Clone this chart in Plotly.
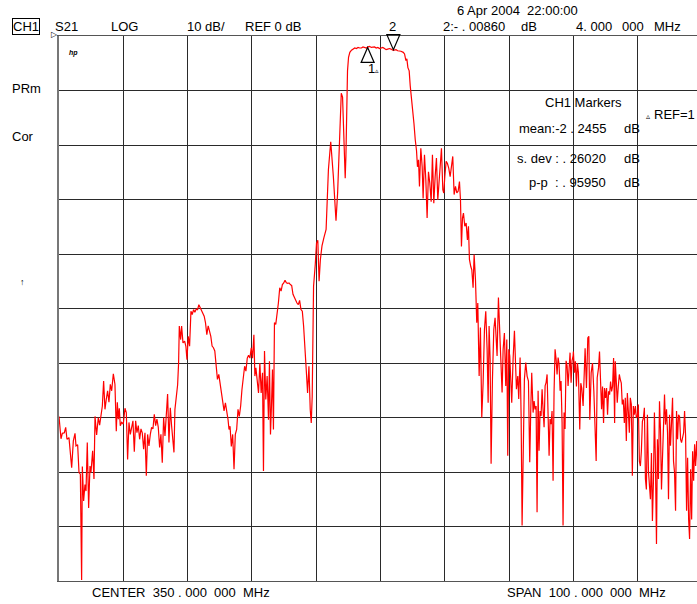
import plotly.graph_objects as go

# ---- Instrument settings ----
start_mhz = 300.0
stop_mhz = 400.0
ref_db = 0.0
scale_db = 10.0
ndiv = 10

# ---- S21 trace: (frequency MHz, dB) ----
seg_low = [(300.00,-69.8),(300.31,-73.9),(300.52,-72.9),(300.83,-72.8),(301.04,-71.8),(301.24,-74.0),(301.55,-73.7),(301.97,-79.2),(302.23,-74.3),(302.49,-72.9),(302.64,-75.2),(302.90,-75.0),(303.11,-80.1),(303.32,-80.4),(303.52,-99.8),(303.63,-79.0),(303.83,-85.3),(304.04,-82.3),(304.20,-83.5),(304.40,-74.6),(304.61,-86.6),(304.82,-78.9),(304.97,-80.1),(305.23,-76.1),(305.44,-81.3),(305.60,-69.8),(305.85,-73.2),(306.11,-70.0),(306.32,-71.4),(306.53,-69.4),(306.74,-67.9),(306.94,-63.3),(307.15,-68.5),(307.36,-66.6),(307.56,-65.1),(307.77,-67.2),(307.98,-63.9),(308.19,-65.1),(308.45,-62.0),(308.70,-63.9),(308.91,-72.5),(309.07,-67.2),(309.22,-70.3),(309.38,-68.3),(309.53,-71.5),(309.74,-70.9),(310.00,-71.2),(310.26,-68.3),(310.47,-69.1),(310.67,-77.7),(310.88,-70.9),(311.09,-73.1),(311.30,-71.5),(311.50,-70.6),(311.71,-76.3),(311.92,-70.6),(312.12,-72.8),(312.33,-71.5),(312.54,-74.0),(312.75,-72.1),(312.95,-72.8),(313.16,-75.8),(313.37,-72.8),(313.58,-80.7),(313.78,-73.1),(313.99,-75.2),(314.20,-73.1),(314.40,-71.8),(314.61,-72.1),(314.82,-69.4),(315.03,-71.5),(315.23,-70.3),(315.44,-71.8),(315.65,-75.5),(315.85,-73.1),(316.06,-78.3),(316.27,-70.0),(316.48,-73.4),(316.68,-69.7),(316.89,-65.7),(317.10,-74.6),(317.31,-68.2),(317.51,-71.5),(317.72,-74.0),(317.88,-76.4),(318.03,-68.5),(318.20,-67.0),(318.45,-64.0),(318.60,-60.0)]

seg_hump = [(318.71,-53.2),(318.92,-55.7),(319.07,-53.2),(319.28,-56.3),(319.54,-56.0),(319.74,-57.0),(319.90,-59.4),(320.10,-55.1),(320.31,-56.9),(320.52,-50.5),(320.72,-51.1),(320.93,-50.2),(321.13,-50.7),(321.34,-50.1),(321.55,-50.2),(321.75,-49.3),(321.96,-49.9),(322.16,-50.2),(322.37,-51.0),(322.58,-51.4),(322.78,-52.6),(322.99,-54.8),(323.20,-53.2),(323.40,-54.2),(323.61,-55.1),(323.81,-56.9),(324.02,-57.2),(324.23,-57.8),(324.43,-60.0),(324.64,-63.0),(324.85,-62.1),(325.05,-63.6),(325.26,-65.5),(325.46,-67.3),(325.67,-68.8),(325.88,-67.3),(326.08,-68.5),(326.29,-70.4),(326.44,-72.2),(326.60,-71.6),(326.80,-75.3),(327.01,-73.1),(327.22,-79.5),(327.42,-73.1),(327.63,-72.2),(327.84,-68.5),(328.04,-69.8),(328.25,-67.9),(328.45,-64.9),(328.66,-63.0),(328.87,-60.6),(329.07,-61.5),(329.28,-59.1),(329.48,-58.6),(329.69,-59.1),(329.90,-57.2),(330.10,-59.1),(330.31,-54.8),(330.46,-62.4),(330.62,-60.9),(330.82,-63.6),(331.03,-65.5),(331.24,-60.0),(331.44,-65.5),(331.65,-61.8),(331.80,-79.8),(331.96,-57.8),(332.16,-66.7),(332.37,-62.4),(332.58,-70.4),(332.73,-59.7),(332.89,-73.1),(333.04,-67.9),(333.20,-61.2),(333.35,-72.2),(333.51,-52.6),(333.71,-52.9),(333.92,-51.1),(334.12,-49.0),(334.33,-46.2),(334.54,-46.8),(334.74,-45.6),(334.95,-45.3),(335.15,-44.8),(335.36,-45.3),(335.57,-45.4),(335.77,-45.3),(335.98,-45.6),(336.19,-45.8),(336.39,-47.4),(336.60,-48.0),(336.80,-48.3),(337.01,-49.0),(337.22,-49.3),(337.42,-48.5),(337.63,-50.2),(337.84,-50.5),(338.04,-53.2),(338.25,-56.6),(338.45,-61.2),(338.66,-65.5),(338.87,-60.6),(339.07,-68.5),(339.23,-71.0),(339.38,-66.1),(339.59,-45.9)]

seg_pass = [(339.85,-42.0),(340.05,-38.0),(340.25,-37.5),(340.45,-45.0),(340.65,-41.0),(340.90,-38.5),(341.20,-37.0),(341.54,-35.5),(341.90,-24.5),(342.26,-19.4),(342.67,-25.8),(343.08,-33.9),(343.33,-28.8),(343.59,-21.5),(343.79,-14.2),(343.90,-10.5),(344.10,-11.2),(344.31,-20.3),(344.51,-26.1),(344.62,-22.1),(344.77,-11.2),(344.87,-6.4),(345.03,-3.9),(345.23,-3.0),(345.49,-2.6),(345.75,-2.4),(346.00,-2.2),(346.25,-2.3),(346.51,-2.1),(346.77,-2.2),(347.03,-2.2),(347.28,-2.0),(347.54,-2.1),(347.80,-2.2),(348.05,-2.0),(348.30,-1.9),(348.56,-2.1),(348.82,-2.0),(349.08,-2.0),(349.33,-2.2),(349.59,-2.1),(349.85,-2.3),(350.10,-2.2),(350.36,-2.1),(350.62,-2.3),(350.87,-2.5),(351.13,-2.4),(351.38,-2.3),(351.64,-2.4),(351.90,-2.6),(352.15,-2.6),(352.41,-2.5),(352.67,-2.7),(352.92,-2.7),(353.18,-2.8),(353.54,-3.0),(353.74,-3.3),(353.95,-4.5),(354.10,-4.2),(354.26,-5.8),(354.46,-6.4),(354.62,-9.1),(354.80,-11.0),(355.00,-13.5),(355.20,-16.0),(355.40,-19.0),(355.60,-21.0)]

seg_skirt = [(355.75,-24.0),(355.91,-22.7),(356.06,-27.6),(356.27,-20.6),(356.48,-24.0),(356.63,-29.8),(356.84,-21.8),(357.05,-26.4),(357.25,-33.4),(357.46,-24.9),(357.67,-27.0),(357.88,-30.4),(358.08,-21.8),(358.29,-30.7),(358.50,-25.8),(358.70,-22.4),(358.91,-30.1),(359.12,-26.7),(359.33,-22.4),(359.48,-20.6),(359.69,-28.2),(359.84,-28.8),(360.00,-25.8),(360.21,-23.0),(360.41,-23.4),(360.62,-24.3),(360.83,-25.8),(361.04,-24.0),(361.24,-22.1),(361.45,-29.1),(361.66,-27.6),(361.87,-28.8),(362.07,-28.5),(362.28,-26.7),(362.44,-30.1),(362.59,-38.6),(362.75,-33.4),(362.90,-32.5),(363.11,-34.9),(363.32,-34.3),(363.52,-37.4),(363.68,-34.9),(363.83,-41.0),(364.04,-42.3)]

seg_mid = [(364.20,-42.9),(364.40,-46.2),(364.56,-40.1),(364.77,-44.7),(364.97,-52.6),(365.13,-49.0),(365.34,-62.4),(365.54,-53.5),(365.75,-70.0),(365.96,-63.6),(366.17,-53.8),(366.37,-50.5),(366.58,-57.5),(366.74,-67.3),(366.89,-53.2),(367.05,-59.3),(367.20,-78.5),(367.41,-63.0),(367.62,-53.8),(367.82,-51.7),(367.98,-54.5),(368.13,-58.7),(368.34,-48.0),(368.55,-54.5),(368.76,-57.5),(368.91,-65.4),(369.07,-57.5),(369.27,-54.5),(369.48,-64.2),(369.64,-55.7),(369.79,-77.0),(369.95,-57.5),(370.10,-58.7),(370.26,-63.0),(370.41,-67.3),(370.62,-59.3),(370.83,-54.1),(370.98,-59.3),(371.14,-64.8),(371.35,-62.4),(371.50,-66.6),(371.71,-59.0),(371.87,-69.7),(372.02,-89.8),(372.18,-74.3),(372.38,-63.0),(372.59,-59.9),(372.80,-62.4),(373.01,-63.3),(373.21,-78.2),(373.37,-68.5),(373.52,-61.8),(373.73,-69.1),(373.89,-67.0),(374.04,-68.5),(374.20,-67.9),(374.35,-87.4),(374.51,-65.1),(374.66,-76.1),(374.82,-68.8),(374.97,-69.7),(375.13,-64.8),(375.28,-68.5),(375.44,-71.8),(375.60,-64.2),(375.75,-63.6),(375.91,-62.1),(376.06,-68.5),(376.22,-77.0),(376.37,-70.3),(376.53,-71.2),(376.68,-68.8),(376.84,-81.6),(376.99,-65.4),(377.15,-57.5),(377.31,-59.3),(377.46,-62.1),(377.62,-59.0),(377.77,-60.2),(377.93,-65.1),(378.08,-63.3),(378.24,-70.9),(378.39,-89.8),(378.55,-69.1),(378.70,-72.1),(378.86,-59.6),(379.02,-60.5),(379.17,-64.2),(379.33,-59.3),(379.48,-58.1),(379.64,-63.6),(379.79,-59.6),(379.95,-58.7)]

seg_high = [(380.00,-57.9),(380.16,-61.8),(380.31,-59.7),(380.47,-64.3),(380.63,-60.0),(380.78,-61.8),(380.99,-72.2),(381.15,-63.7),(381.30,-64.6),(381.51,-67.9),(381.67,-61.5),(381.82,-57.3),(382.03,-64.6),(382.24,-55.4),(382.40,-55.1),(382.55,-70.4),(382.76,-61.8),(382.97,-60.0),(383.18,-65.2),(383.39,-71.6),(383.54,-78.0),(383.70,-62.7),(383.91,-60.9),(384.06,-57.9),(384.22,-63.0),(384.38,-68.5),(384.53,-64.3),(384.69,-71.0),(384.84,-64.6),(385.00,-66.4),(385.16,-64.6),(385.31,-69.5),(385.47,-65.2),(385.63,-65.8),(385.78,-63.4),(385.94,-65.2),(386.09,-64.3),(386.25,-59.1),(386.41,-71.0),(386.51,-59.7),(386.67,-63.4),(386.82,-67.3),(386.98,-64.3),(387.14,-62.1),(387.29,-63.0),(387.45,-63.7),(387.60,-67.6),(387.76,-66.7),(387.92,-71.0),(388.07,-66.4),(388.23,-74.3),(388.39,-65.5),(388.54,-68.8),(388.70,-72.8),(388.85,-66.4),(389.01,-67.6),(389.17,-80.7),(389.32,-67.9),(389.48,-69.5),(389.64,-67.9),(389.79,-70.1),(389.95,-69.8),(390.10,-67.6),(390.26,-78.0),(390.42,-78.9),(390.57,-76.2),(390.73,-70.7),(390.89,-70.1),(391.04,-68.2),(391.20,-81.3),(391.35,-83.2),(391.51,-69.5),(391.67,-79.8),(391.82,-82.6),(391.98,-85.0),(392.14,-76.5),(392.29,-89.0),(392.45,-81.6),(392.60,-69.1),(392.76,-78.3),(392.92,-93.2),(393.07,-74.0),(393.23,-81.3),(393.39,-67.0),(393.54,-72.2),(393.70,-83.2),(393.85,-75.9),(394.01,-69.1),(394.17,-65.8),(394.32,-71.3),(394.48,-68.5),(394.64,-72.8),(394.79,-85.0),(394.95,-69.5),(395.10,-75.2),(395.26,-71.0),(395.42,-66.4),(395.57,-78.0),(395.73,-80.1),(395.89,-87.1),(396.04,-68.8),(396.20,-74.0),(396.35,-69.5),(396.51,-69.8),(396.67,-74.0),(396.82,-74.6),(396.98,-73.4),(397.14,-72.8),(397.29,-68.8),(397.45,-73.4),(397.60,-87.1),(397.76,-77.4),(397.92,-88.7),(398.07,-92.3),(398.23,-79.5),(398.39,-88.7),(398.54,-76.2),(398.70,-81.6),(398.85,-74.9),(399.01,-78.9),(399.17,-74.3),(399.32,-78.3)]

# markers (marker 2 is 4 MHz above marker 1)
marker_freq = [348.0, 352.0]
marker_names = ["1", "2"]

trace = seg_low + seg_hump + seg_pass + seg_skirt + seg_mid + seg_high
freq = [p[0] for p in trace]
s21 = [p[1] for p in trace]

# page body margin is removed below, so the figure fills the window
W, H = 697, 604
L, R, T, B = 59, 0, 36, 23
PW = W - L - R
PH = H - T - B
# visible span: the right edge of the screen crops the last division
vis_stop = start_mhz + PW / 64.3 * 10.0
y_lo, y_hi = ref_db - scale_db * ndiv, ref_db

def px(x):
    return (x - L) / PW

def py(y):
    return (H - B - y) / PH

fig = go.Figure()
fig.add_trace(go.Scatter(x=freq, y=s21, mode="lines",
                         line=dict(color="#ff0000", width=1.2),
                         hoverinfo="skip", showlegend=False))

def trace_at(f):
    best = min(trace, key=lambda p: abs(p[0] - f))
    return best[1]

def db_to_paper(v):
    return (v - y_lo) / (y_hi - y_lo)

m1_db = trace_at(marker_freq[0])
m2_db = trace_at(marker_freq[1])
shapes = [
    dict(type="path", xref="x", yref="paper", xsizemode="pixel", ysizemode="pixel",
         xanchor=marker_freq[0], yanchor=db_to_paper(m1_db) - 0.001,
         path="M0,0 L-6.5,-15 L6.5,-15 Z",
         line=dict(color="black", width=1.2), fillcolor="rgba(0,0,0,0)"),
    dict(type="path", xref="x", yref="paper", xsizemode="pixel", ysizemode="pixel",
         xanchor=marker_freq[1], yanchor=db_to_paper(m2_db) + 0.001,
         path="M0,0 L-6.5,15 L6.5,15 Z",
         line=dict(color="black", width=1.2), fillcolor="rgba(0,0,0,0)"),
]

font = dict(family="Liberation Sans, Arial, sans-serif", size=13, color="black")
anns = []

def txt(x, y, s, size=13, xanchor="left", **kw):
    f = dict(font)
    f["size"] = size
    anns.append(dict(x=px(x), y=py(y), xref="paper", yref="paper", text=s,
                     showarrow=False, xanchor=xanchor, yanchor="middle",
                     font=f, **kw))

txt(12, 26, "CH1", bordercolor="black", borderwidth=1, borderpad=0)
txt(53, 26, "S21")
txt(109, 26, "LOG")
txt(185, 26, "10 dB/")
txt(243, 26, "REF 0 dB")
txt(392, 26, marker_names[1], xanchor="center")
txt(441, 26, "2:- . 00860")
txt(519, 26, "dB")
txt(574, 26, "4. 000")
txt(620, 26, "000")
txt(652, 26, "MHz")
txt(455, 10, "6 Apr 2004  22:00:00")
txt(543, 103, "CH1 Markers")
txt(608, 128, "mean:-2 . 2455", xanchor="right")
txt(622, 128, "dB")
txt(608, 159, "s. dev : . 26020", xanchor="right")
txt(622, 159, "dB")
txt(608, 183, "p-p  : . 95950", xanchor="right")
txt(622, 183, "dB")
txt(644, 117, "▵", size=8)
txt(652, 115, "REF=1")
txt(10, 89, "PRm")
txt(10, 136, "Cor")
txt(18, 282, "↑", size=9)
txt(67, 53, "<i><b>hp</b></i>", size=7)
txt(90, 592, "CENTER  350 . 000  000  MHz")
txt(505, 592, "SPAN  100 . 000  000  MHz")
txt(366, 69, marker_names[0])
txt(373, 71, "▵", size=7)
txt(49, 34, "▷", size=8)

fig.update_layout(
    width=W, height=H,
    margin=dict(l=L, r=R, t=T, b=B, pad=0),
    paper_bgcolor="white", plot_bgcolor="white",
    annotations=anns, shapes=shapes,
    xaxis=dict(range=[start_mhz, vis_stop], tick0=start_mhz,
               dtick=(stop_mhz - start_mhz) / ndiv,
               showgrid=True, gridcolor="#2a2a2a", gridwidth=1,
               showticklabels=False, ticks="", zeroline=False,
               showline=True, linecolor="#555555", linewidth=1, mirror=True),
    yaxis=dict(range=[y_lo, y_hi], tick0=ref_db,
               dtick=scale_db, showgrid=True, gridcolor="#2a2a2a", gridwidth=1,
               showticklabels=False, ticks="", zeroline=False,
               showline=True, linecolor="#777777", linewidth=2, mirror=False),
)

fig.write_html("out.html", config={"displayModeBar": False},
               post_script="document.body.style.margin='0px';")
